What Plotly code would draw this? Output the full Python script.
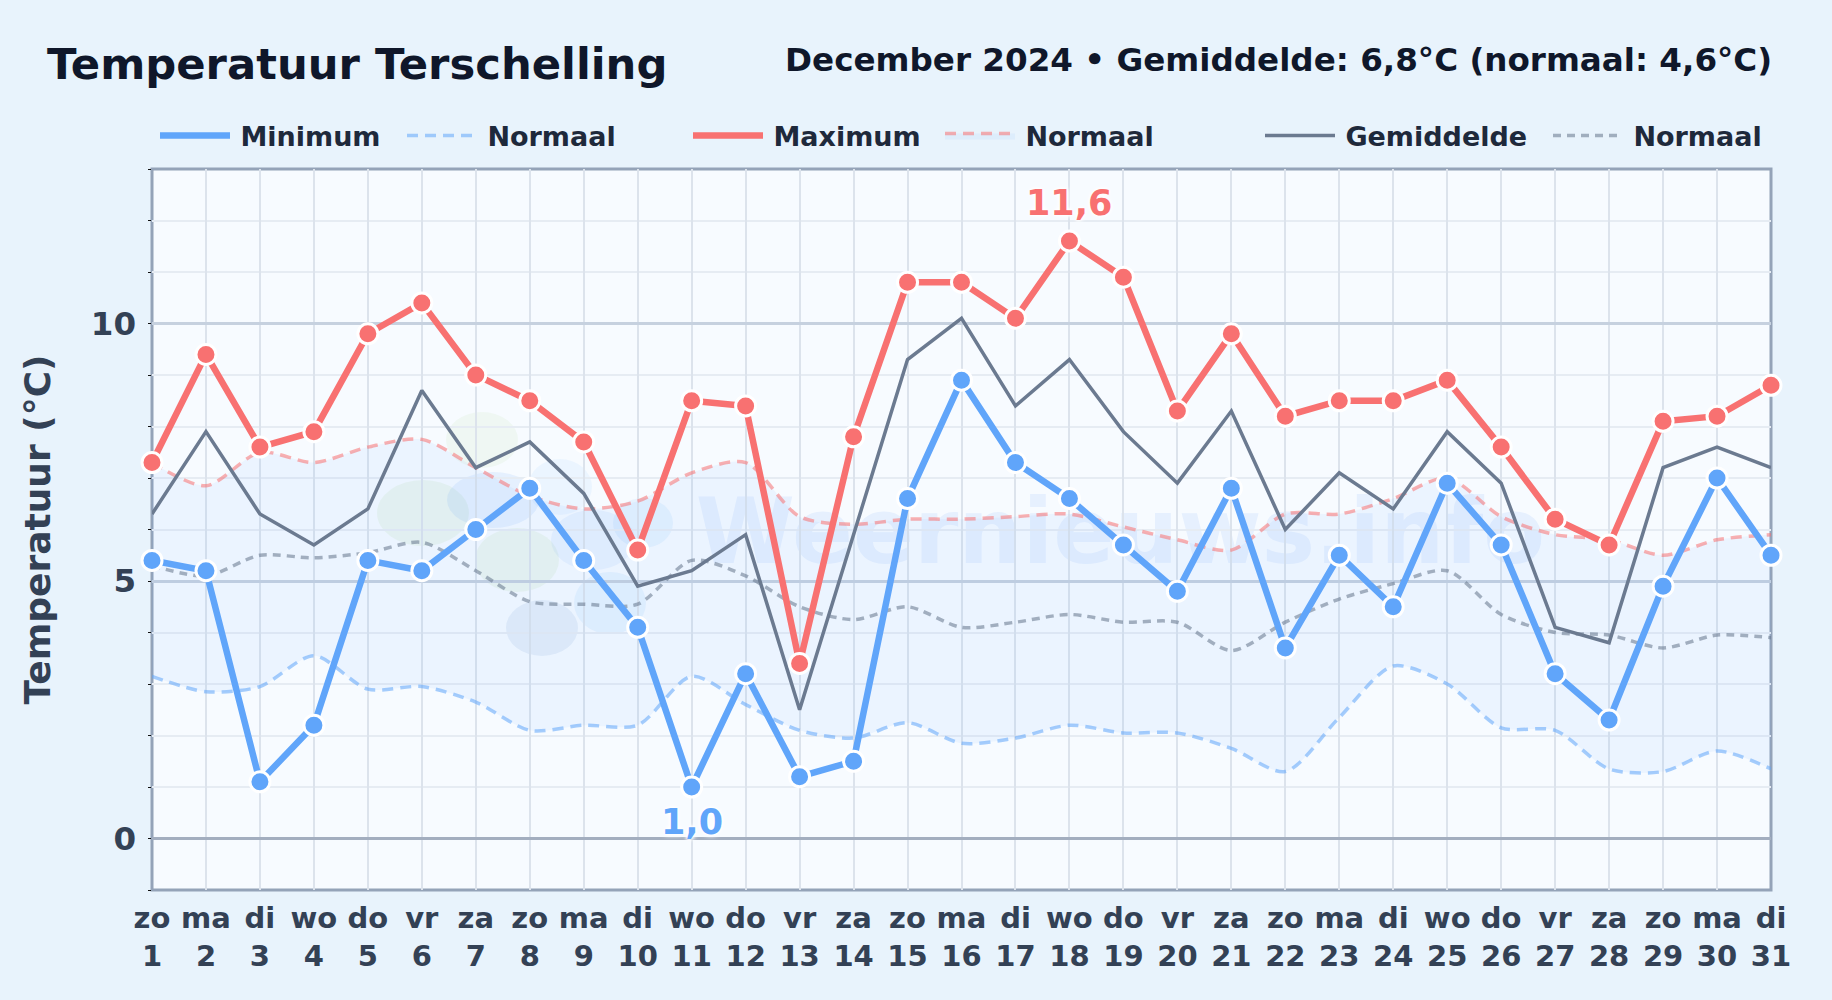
import plotly.graph_objects as go

days = list(range(1, 32))
weekdays = ["zo","ma","di","wo","do","vr","za","zo","ma","di","wo","do","vr","za","zo","ma","di","wo","do","vr","za","zo","ma","di","wo","do","vr","za","zo","ma","di"]
tick_labels = [f"{w}<br>{d}" for w, d in zip(weekdays, days)]
t_min = [5.4,5.2,1.1,2.2,5.4,5.2,6.0,6.8,5.4,4.1,1.0,3.2,1.2,1.5,6.6,8.9,7.3,6.6,5.7,4.8,6.8,3.7,5.5,4.5,6.9,5.7,3.2,2.3,4.9,7.0,5.5]
t_max = [7.3,9.4,7.6,7.9,9.8,10.4,9.0,8.5,7.7,5.6,8.5,8.4,3.4,7.8,10.8,10.8,10.1,11.6,10.9,8.3,9.8,8.2,8.5,8.5,8.9,7.6,6.2,5.7,8.1,8.2,8.8]
t_avg = [6.3,7.9,6.3,5.7,6.4,8.7,7.2,7.7,6.7,4.9,5.2,5.9,2.5,5.9,9.3,10.1,8.4,9.3,7.9,6.9,8.3,6.0,7.1,6.4,7.9,6.9,4.1,3.8,7.2,7.6,7.2]
n_max = [7.3,6.85,7.5,7.3,7.6,7.75,7.2,6.65,6.4,6.55,7.1,7.3,6.25,6.1,6.2,6.2,6.25,6.3,6.05,5.8,5.6,6.3,6.3,6.6,7.0,6.25,5.9,5.8,5.5,5.8,5.9]
n_avg = [5.3,5.1,5.5,5.45,5.55,5.75,5.2,4.6,4.55,4.55,5.4,5.1,4.5,4.25,4.5,4.1,4.2,4.35,4.2,4.2,3.65,4.2,4.65,4.95,5.2,4.35,4.0,3.95,3.7,3.95,3.9]
n_min = [3.15,2.85,2.95,3.55,2.9,2.95,2.65,2.1,2.2,2.2,3.15,2.6,2.1,1.95,2.25,1.85,1.95,2.2,2.05,2.05,1.75,1.3,2.35,3.35,3.0,2.15,2.1,1.35,1.3,1.7,1.35]

W, H = 1832, 1000
L, R, T, B = 152, 1771, 169, 890
FONT = "DejaVu Sans"
BLUE, RED, GREY = "#60A5FA", "#F87171", "#6B7A90"
THIN = "\u2009"

legend_x = {"legend": 165, "legend2": 412, "legend3": 698, "legend4": 950, "legend5": 1270, "legend6": 1558}

def marker(color):
    return dict(size=20, color=color, line=dict(color="white", width=3))

def px_x(v):
    return (v - L) / (R - L)

def px_y(v):
    return (B - v) / (B - T)

SPL = dict(width=3.5, shape="spline", smoothing=0.8)

fig = go.Figure()
fig.add_trace(go.Scatter(x=days, y=n_min, name=THIN+"Normaal", mode="lines", legend="legend2",
                         line=dict(color="rgba(96,165,250,0.55)", dash="11px,7px", **SPL)))
fig.add_trace(go.Scatter(x=days, y=n_max, name=THIN+"Normaal", mode="lines", legend="legend4", fill="tonexty",
                         fillcolor="rgba(96,165,250,0.08)",
                         line=dict(color="rgba(248,113,113,0.55)", dash="11px,7px", **SPL)))
fig.add_trace(go.Scatter(x=days, y=n_avg, name=THIN+"Normaal", mode="lines", legend="legend6",
                         line=dict(color="rgba(100,116,139,0.55)", dash="8px,6px", **SPL)))
fig.add_trace(go.Scatter(x=days, y=t_avg, name=THIN+"Gemiddelde", mode="lines", legend="legend5",
                         line=dict(color=GREY, width=3.5)))
fig.add_trace(go.Scatter(x=days, y=t_max, name=THIN+"Maximum", mode="lines", legend="legend3",
                         line=dict(color=RED, width=6.5)))
fig.add_trace(go.Scatter(x=days, y=t_max, mode="markers", showlegend=False, cliponaxis=False, marker=marker(RED)))
fig.add_trace(go.Scatter(x=days, y=t_min, name=THIN+"Minimum", mode="lines", legend="legend",
                         line=dict(color=BLUE, width=6.5)))
fig.add_trace(go.Scatter(x=days, y=t_min, mode="markers", showlegend=False, cliponaxis=False, marker=marker(BLUE)))

# watermark logo blobs (decoration: centre x, centre y, rx, ry in page pixels)
blobs = [
    (482, 440, 36, 28, "rgba(190,225,170,0.14)"),
    (423, 513, 46, 33, "rgba(190,225,170,0.18)"),
    (517, 560, 42, 32, "rgba(190,225,170,0.18)"),
    (493, 500, 46, 28, "rgba(59,130,246,0.09)"),
    (560, 487, 32, 28, "rgba(96,180,250,0.08)"),
    (593, 540, 42, 30, "rgba(59,130,246,0.07)"),
    (643, 523, 30, 25, "rgba(96,180,250,0.10)"),
    (610, 603, 36, 31, "rgba(96,180,250,0.10)"),
    (542, 628, 36, 28, "rgba(59,110,190,0.09)"),
]
shapes = [dict(type="circle", xref="paper", yref="paper", layer="below", line=dict(width=0), fillcolor=c,
               x0=px_x(cx-rx), x1=px_x(cx+rx), y0=px_y(cy+ry), y1=px_y(cy-ry))
          for cx, cy, rx, ry, c in blobs]
shapes.append(dict(type="rect", xref="paper", yref="paper", layer="below", line=dict(width=0), fillcolor="rgba(0,0,0,0)",
                   x0=px_x(687), x1=px_x(1554), y0=px_y(580), y1=px_y(470),
                   label=dict(text="Weernieuws.info", textposition="middle center",
                              font=dict(family=FONT, size=90, color="rgba(59,130,246,0.085)", weight="bold"))))
# plot frame, centred on the plot edges
shapes.append(dict(type="rect", xref="paper", yref="paper", layer="below", x0=0, x1=1, y0=0, y1=1,
                   line=dict(color="#94A3B8", width=3), fillcolor="rgba(0,0,0,0)"))

halo = "0 0 3px #fff, 0 0 3px #fff, 0 0 4px #fff, 0 0 5px #fff, 0 0 6px #fff"
annotations = [
    dict(text="December 2024 • Gemiddelde: 6,8°C (normaal: 4,6°C)", xref="paper", yref="paper", x=1, y=px_y(60), xshift=3,
         xanchor="right", yanchor="middle", showarrow=False, font=dict(family=FONT, size=32.6, color="#0F172A", weight="bold")),
    dict(text="11,6", x=18, y=11.6, yshift=38, showarrow=False,
         font=dict(family=FONT, size=35, color=RED, weight="bold", shadow=halo)),
    dict(text="1,0", x=11, y=1.0, yshift=-35, showarrow=False,
         font=dict(family=FONT, size=35, color=BLUE, weight="bold", shadow=halo)),
]

legend_common = dict(orientation="h", xref="container", yref="container", yanchor="middle", xanchor="left",
                     bgcolor="rgba(0,0,0,0)", itemwidth=70, font=dict(family=FONT, size=27, color="#1E293B", weight="bold"))
legends = {k: dict(legend_common, x=(v-10)/W, y=1-136/H) for k, v in legend_x.items()}

fig.update_layout(
    width=W, height=H, autosize=False,
    margin=dict(l=L, r=W-R, t=T, b=H-B),
    paper_bgcolor="#E8F3FC", plot_bgcolor="#F7FBFF",
    title=dict(text="Temperatuur Terschelling", xref="container", yref="container", x=47/W, y=1-64/H,
               xanchor="left", yanchor="middle", font=dict(family=FONT, size=43.3, color="#0F172A", weight="bold")),
    showlegend=True, shapes=shapes, annotations=annotations,
    xaxis=dict(range=[1, 31], tickmode="array", tickvals=days, ticktext=tick_labels, tickangle=0,
               showgrid=True, gridcolor="#DCE3EC", gridwidth=2, zeroline=False, automargin=False,
               showline=False, ticks="", ticklabelstandoff=8,
               tickfont=dict(family=FONT, size=29, color="#334155", weight="bold")),
    yaxis=dict(range=[-1, 13], tickvals=[0, 5, 10], ticktext=["0", "5", "10"], automargin=False,
               showgrid=True, gridcolor="#C6D1DF", gridwidth=2.5,
               zeroline=True, zerolinecolor="#A3AEBF", zerolinewidth=3,
               showline=False, ticks="", ticklabelstandoff=15,
               minor=dict(tick0=-1, dtick=1, showgrid=True, gridcolor="#E6ECF3", gridwidth=2,
                          ticks="outside", ticklen=3, tickcolor="#111", tickwidth=1),
               tickfont=dict(family=FONT, size=32.5, color="#334155", weight="bold"),
               title=dict(text="Temperatuur (°C)", standoff=29, font=dict(family=FONT, size=36, color="#334155", weight="bold"))),
    **legends,
)

fig.write_html("out.html", config={"displayModeBar": False},
               post_script="document.body.style.margin='0';window.dispatchEvent(new Event('resize'));")
